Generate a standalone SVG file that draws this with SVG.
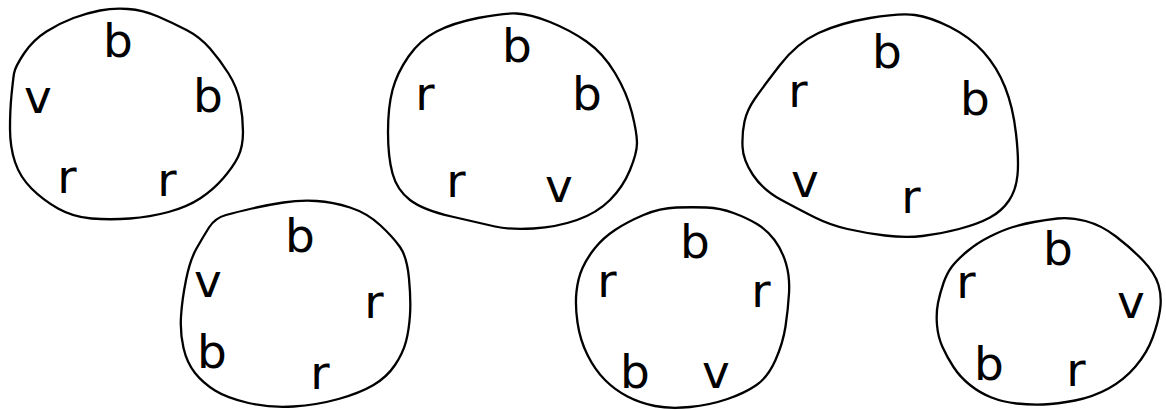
<svg xmlns="http://www.w3.org/2000/svg" width="1166" height="410" viewBox="0 0 1166 410">
<style>
.blob{fill:none;stroke:#000;stroke-width:2.3;stroke-linejoin:round}
.l{font-family:"DejaVu Sans","Liberation Sans",sans-serif;font-size:47px;fill:#000;text-anchor:middle}
</style>
<rect width="1166" height="410" fill="#fff"/>
<g id="set1">
<path class="blob" d="M14,73.5 Q15,67 24,53.5 Q33,40 46.5,31.5 Q60,23 73.5,18 Q87,13 100,10.5 Q113,8 128,9 Q143,10 158,16.5 Q173,23 186.5,30 Q200,37 210,48.5 Q220,60 228.5,73.5 Q237,87 240,102 Q243,117 243,132 Q243,147 238,157 Q233,167 223,178.5 Q213,190 200,198.5 Q187,207 168.5,212 Q150,217 130,218.5 Q110,220 91.5,218.5 Q73,217 58,208.5 Q43,200 31.5,188.5 Q20,177 15,162 Q10,147 10,128.5 Q10,110 11.5,95 Q13,80 14,73.5 Z"/>
<text class="l" x="118" y="57">b</text>
<text class="l" x="38" y="113">v</text>
<text class="l" x="208" y="112">b</text>
<text class="l" x="67" y="193">r</text>
<text class="l" x="167" y="196">r</text>
</g>
<g id="set2">
<path class="blob" d="M392.5,90 Q397,73 408.5,56.5 Q420,40 436.5,31.5 Q453,23 478,18 Q503,13 516.5,13.5 Q530,14 550,22 Q570,30 586.5,41.5 Q603,53 615,73 Q627,93 632,113 Q637,133 637,143 Q637,153 630,170 Q623,187 610,200 Q597,213 577,220 Q557,227 533.5,228.5 Q510,230 495,226.5 Q480,223 451.5,216.5 Q423,210 410,200 Q397,190 392.5,173.5 Q388,157 388,132 Q388,107 392.5,90 Z"/>
<text class="l" x="517" y="62">b</text>
<text class="l" x="425" y="110">r</text>
<text class="l" x="587" y="110">b</text>
<text class="l" x="456" y="197">r</text>
<text class="l" x="559" y="202">v</text>
</g>
<g id="set3">
<path class="blob" d="M744.5,121.5 Q747,110 755,98.5 Q763,87 780,65 Q797,43 818.5,33 Q840,23 870,18 Q900,13 915,15 Q930,17 950,27 Q970,37 983.5,52 Q997,67 1005,87 Q1013,107 1016,133.5 Q1019,160 1017.5,175 Q1016,190 1009,200.5 Q1002,211 990,217.5 Q978,224 959,229 Q940,234 922.5,236 Q905,238 885,235.5 Q865,233 847.5,229 Q830,225 815,217.5 Q800,210 781.5,200 Q763,190 753,175 Q743,160 742.5,146.5 Q742,133 744.5,121.5 Z"/>
<text class="l" x="887" y="68">b</text>
<text class="l" x="798" y="107">r</text>
<text class="l" x="975" y="115">b</text>
<text class="l" x="805" y="197">v</text>
<text class="l" x="911" y="213">r</text>
</g>
<g id="set4">
<path class="blob" d="M186,280 Q190,260 196.5,248.5 Q203,237 209,227.5 Q215,218 226,215 Q237,212 252,208.5 Q267,205 283.5,202.5 Q300,200 316.5,201 Q333,202 350,207.5 Q367,213 380,225 Q393,237 400,247 Q407,257 409,278.5 Q411,300 410,315 Q409,330 406,341.5 Q403,353 395,365 Q387,377 373.5,385 Q360,393 338.5,399 Q317,405 293.5,406.5 Q270,408 248.5,403 Q227,398 215,390.5 Q203,383 195,373 Q187,363 183.5,348 Q180,333 181,316.5 Q182,300 186,280 Z"/>
<text class="l" x="300" y="252">b</text>
<text class="l" x="208" y="297">v</text>
<text class="l" x="374" y="318">r</text>
<text class="l" x="212" y="368">b</text>
<text class="l" x="320" y="389">r</text>
</g>
<g id="set5">
<path class="blob" d="M582.5,268 Q587,258 595,248 Q603,238 615,230 Q627,222 643.5,215 Q660,208 676.5,207.5 Q693,207 706.5,207.5 Q720,208 733.5,213 Q747,218 757,224 Q767,230 774.5,240 Q782,250 786,263.5 Q790,277 789,293.5 Q788,310 785.5,326.5 Q783,343 775.5,360 Q768,377 756.5,385 Q745,393 727.5,399 Q710,405 690,407 Q670,409 655,406 Q640,403 627.5,396.5 Q615,390 605,380 Q595,370 587.5,355 Q580,340 577.5,322.5 Q575,305 576.5,291.5 Q578,278 582.5,268 Z"/>
<text class="l" x="695" y="258">b</text>
<text class="l" x="607" y="297">r</text>
<text class="l" x="761" y="307">r</text>
<text class="l" x="635" y="388">b</text>
<text class="l" x="716" y="388">v</text>
</g>
<g id="set6">
<path class="blob" d="M943.5,283 Q947,273 952,266.5 Q957,260 967,251.5 Q977,243 990,236.5 Q1003,230 1013,227 Q1023,224 1034,222 Q1045,220 1057.5,218.5 Q1070,217 1085.5,221 Q1101,225 1116,236.5 Q1131,248 1143,260.5 Q1155,273 1158.5,285 Q1162,297 1160,310 Q1158,323 1152.5,338 Q1147,353 1135.5,366.5 Q1124,380 1108.5,388.5 Q1093,397 1075,400.5 Q1057,404 1043.5,404.5 Q1030,405 1016.5,403.5 Q1003,402 991.5,397.5 Q980,393 970,385 Q960,377 953.5,367 Q947,357 942.5,347 Q938,337 937,325 Q936,313 938,303 Q940,293 943.5,283 Z"/>
<text class="l" x="1058" y="265">b</text>
<text class="l" x="966" y="298">r</text>
<text class="l" x="1131" y="318">v</text>
<text class="l" x="989" y="380">b</text>
<text class="l" x="1076" y="386">r</text>
</g>
<g id="connectors"/>
</svg>
